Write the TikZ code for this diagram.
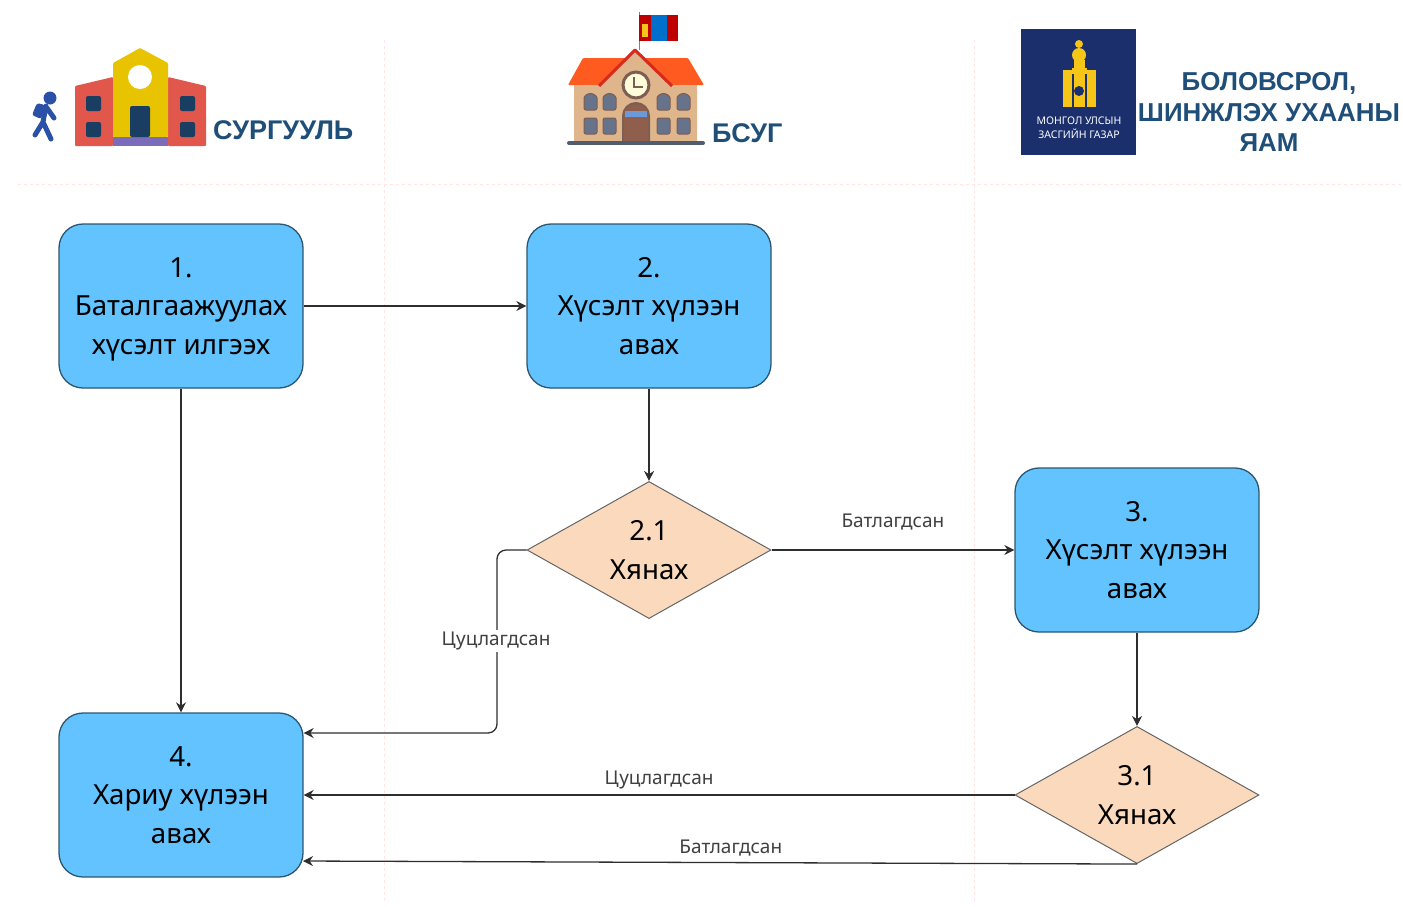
\documentclass[tikz,border=0pt]{standalone}
\usepackage{fontspec}
\setmainfont{Noto Sans}
\newfontfamily\headfont{Liberation Sans}
\usepackage{tikz}
\usetikzlibrary{positioning,arrows.meta,shapes.geometric,calc}
\definecolor{blue1}{HTML}{62C3FE}
\definecolor{edge1}{HTML}{2C5670}
\definecolor{peach1}{HTML}{FBD9BC}
\definecolor{line1}{HTML}{2E2E2E}
\definecolor{head1}{HTML}{1F4E79}
\definecolor{navy1}{HTML}{1A2F6C}
\definecolor{gold1}{HTML}{F5C518}
\definecolor{brick1}{HTML}{E2574C}
\definecolor{tan1}{HTML}{DFB68C}
\definecolor{win1}{HTML}{66738A}
\definecolor{kid1}{HTML}{2B50A8}
\definecolor{roof1}{HTML}{FF5A1F}
\definecolor{gable1}{HTML}{D62A1E}
\definecolor{door1}{HTML}{8F5E4C}
\definecolor{trim1}{HTML}{7D5E52}
\definecolor{step1}{HTML}{7B6BBB}
\definecolor{yellow1}{HTML}{E8C400}

\begin{document}
\begin{tikzpicture}[
    x=1pt, y=-1pt,
    >=Stealth,
    procbox/.style={draw=edge1, fill=blue1, rounded corners=24pt, line width=1.3pt,
                 minimum width=244pt, minimum height=164pt, align=center,
                 font=\fontsize{27.7}{38.5}\selectfont},
    checkbox/.style={draw=gray!80!black, fill=peach1, diamond, line width=1pt, inner sep=0pt,
                 minimum width=244pt, minimum height=136pt, align=center,
                 font=\fontsize{27.7}{38.5}\selectfont},
    arr/.style={->, line1, line width=1.3pt, >={Stealth[length=10pt,width=10pt]}},
    lbl/.style={font=\fontsize{19}{22}\selectfont, text=black!75, inner sep=2pt},
    head/.style={font=\headfont\bfseries\fontsize{27}{30.5}\selectfont, text=head1, align=center, inner sep=0pt},
    sep/.style={dashed, red!10, line width=0.8pt},
    win/.style={fill=win1, draw=trim1, line width=1pt, rounded corners=2pt},
]
\useasboundingbox (0,0) rectangle (1403,906);

% separators
\draw[sep] (384,40) -- (384,904);
\draw[sep] (974,40) -- (974,904);
\draw[sep] (18,184) -- (1403,184);

% student
\fill[kid1] (50,98) circle (6.5);
\fill[kid1, rounded corners=2pt] (32,115) -- (37,103) -- (45,105) -- (41,119) -- cycle;
\draw[kid1, line width=5pt, line cap=round, line join=round]
     (46,106) -- (43,122) -- (51,139) (43,122) -- (35,135) (47,108) -- (54,118);

% school
\fill[brick1, rounded corners=1pt] (75,86) -- (113,77) -- (113,146) -- (75,146) -- cycle;
\fill[brick1, rounded corners=1pt] (168,77) -- (206,86) -- (206,146) -- (168,146) -- cycle;
\fill[yellow1, rounded corners=1pt] (113,63) -- (140,48) -- (168,63) -- (168,137) -- (113,137) -- cycle;
\fill[step1] (113,137) rectangle (168,146);
\fill[white] (140,77) circle (12);
\fill[head1!80!black, rounded corners=2pt] (130,106) rectangle (150,137);
\foreach \wx in {86,180}
  \foreach \wy in {96,122}
    \fill[head1!80!black, rounded corners=2pt] (\wx,\wy) rectangle ++(15,15);
\node[head, anchor=west] (school) at (213,130) {СУРГУУЛЬ};

% bsug building
\draw[gray, line width=1pt] (639,12) -- (639,50);
\fill[red!75!black] (639,15) rectangle (651,41);
\fill[blue!45!cyan!80!black] (651,15) rectangle (667,41);
\fill[red!75!black] (667,15) rectangle (678,41);
\fill[gold1] (642,24) rectangle (648,37);
\fill[roof1, rounded corners=1pt] (568,85) -- (583,58) -- (688,58) -- (704,85) -- cycle;
\fill[tan1] (574,85) -- (600,85) -- (635,50) -- (672,85) -- (697,85) -- (697,142) -- (574,142) -- cycle;
\draw[gable1, line width=3pt, line join=round] (599,86) -- (635,50) -- (672,86);
\draw[trim1, fill=yellow!15, line width=3pt] (636,85) circle (13);
\draw[trim1, line width=1.5pt] (634,77) -- (634,87) -- (643,87);
\foreach \wx in {584,603,657,677}{
  \filldraw[win] (\wx,110) -- (\wx,100) arc[start angle=180, end angle=360, radius=6.5] -- (\wx+13,110) -- cycle;
  \filldraw[win] (\wx,118) rectangle ++(13,16);
}
\filldraw[fill=door1, draw=trim1, line width=2pt] (623,142) -- (623,116) arc[start angle=180, end angle=360, radius=13] -- (649,142) -- cycle;
\fill[cyan!50!blue!60] (625,111) rectangle (647,117);
\draw[win1!80!black, line width=4pt, line cap=round] (569,143) -- (703,143);
\node[head, anchor=west] (bsug) at (712,133) {БСУГ};

% ministry logo
\fill[navy1] (1021,29) rectangle (1136,155);
\fill[gold1] (1063,70) rectangle (1072,107);
\fill[gold1] (1087,70) rectangle (1096,107);
\fill[gold1] (1079,44) circle (4);
\fill[gold1] (1079,55) ellipse (7 and 7);
\fill[gold1] (1074,60) rectangle (1085,107);
\fill[gold1] (1072,68) rectangle (1087,74);
\fill[navy1] (1079,91) circle (5);
\node[font=\fontsize{10.5}{14}\selectfont\bfseries, text=white, align=center, inner sep=0pt] (logotxt) at (1079,128)
     {МОНГОЛ УЛСЫН\\ЗАСГИЙН ГАЗАР};
\node[head, font=\headfont\bfseries\fontsize{25.9}{30.5}\selectfont] (mesy) at (1269,112) {БОЛОВСРОЛ,\\ШИНЖЛЭХ УХААНЫ\\ЯАМ};

% process boxes
\node[procbox] (p1) at (181,306) {1.\\Баталгаажуулах\\\smash{хүсэлт илгээх}};
\node[procbox] (p2) at (649,306) {2.\\Хүсэлт хүлээн\\авах};
\node[procbox] (p3) at (1137,550) {3.\\Хүсэлт хүлээн\\авах};
\node[procbox] (p4) at (181,795) {4.\\Хариу хүлээн\\авах};
\node[checkbox] (c21) at (649,550) {2.1\\Хянах};
\node[checkbox] (c31) at (1137,795) {3.1\\Хянах};

\coordinate (turn) at (497,733);
\coordinate (lowin) at (303,861);

\draw[arr] (p1) -- (p2);
\draw[arr] (p2) -- (c21);
\draw[arr] (p1) -- (p4);
\draw[arr] (c21) -- node[lbl, above=17pt, pos=0.5] (ok21) {Батлагдсан} (p3);
\draw[arr] (p3) -- (c31);
\draw[arr, rounded corners=9pt] (c21.west) -| (turn) -- (turn -| p4.east);
\draw[arr] (c31.west) -- node[lbl, above=3pt, pos=0.5] (no31) {Цуцлагдсан} (c31.west -| p4.east);
\draw[arr] (c31.south) -- node[lbl, above=4pt, pos=0.487] (ok31) {Батлагдсан} (lowin);
\node[lbl, fill=white] (no21) at (496,641) {Цуцлагдсан};
\end{tikzpicture}
\end{document}
